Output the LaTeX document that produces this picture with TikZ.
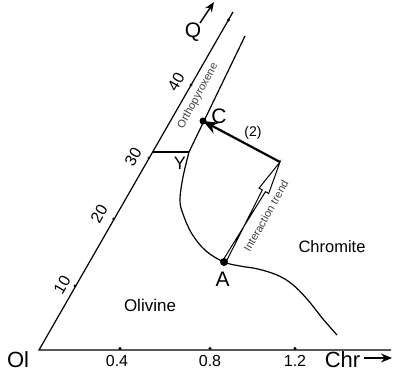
\documentclass[tikz,border=0pt]{standalone}
\usepackage{fontspec}
\setmainfont{Liberation Sans}
\usetikzlibrary{arrows.meta,calc}
\begin{document}
\begin{tikzpicture}[x=1pt,y=-1pt,
  ax/.style={line width=1.2pt},
  tickdot/.style={fill=black,circle,inner sep=0pt,minimum size=3.2pt},
  lbl/.style={inner sep=0pt,font=\fontsize{16}{16}\selectfont},
  big/.style={inner sep=0pt,font=\fontsize{21}{21}\selectfont},
  corner/.style={inner sep=0pt,font=\fontsize{22}{22}\selectfont,anchor=base},
  small/.style={inner sep=0pt,font=\fontsize{11}{11}\selectfont,text=black!75},
  pt/.style={fill=black,circle,inner sep=0pt}]
\useasboundingbox (0,0) rectangle (393,367);
% frame coordinates
\coordinate (Ol) at (39,350);
\coordinate (Top) at (233,12);
\coordinate (BaseEnd) at (391,350);
\coordinate (InTop) at (245,36);
\coordinate (J) at (189,152);
\coordinate (L30) at (153,152);
\coordinate (C) at (203,121);
\coordinate (A) at (224,262);
\coordinate (T) at (280,162);
% axes
\draw[ax] (Top) -- (Ol) -- (BaseEnd);
\draw[ax] (InTop) -- (J);
\draw[ax] (L30) -- (J);
% curve
\draw[ax] plot[smooth,tension=0.6] coordinates {(189,152) (183,177) (180,200) (183,214) (192,234) (206,251) (224,262) (240,266) (258,269) (277,275) (292,284) (307,299) (323,319) (337,335)};
% ticks on left axis
\foreach \y/\n in {286/t10,219/t20,158/t30,85/t40,20/t50}
  \node[tickdot] (\n) at ({39+(350-\y)/1.732-1},\y) {};
% ticks on base
\foreach \x/\n in {120/b4,210/b8,295/b12}
  \node[tickdot] (\n) at (\x,348.5) {};
% tick labels left
\node[lbl,rotate=60] (l10) at (62,285) {10};
\node[lbl,rotate=60] (l20) at (99,214) {20};
\node[lbl,rotate=60] (l30) at (133,157) {30};
\node[lbl,rotate=60] (l40) at (176,82) {40};
% base labels
\node[lbl,anchor=base] (n04) at (117,366) {0.4};
\node[lbl,anchor=base] (n08) at (210,366) {0.8};
\node[lbl,anchor=base] (n12) at (295,366) {1.2};
% corner labels
\node[corner] (olL) at (18,367) {Ol};
\node[corner] (chrL) at (342.5,367) {Chr};
\coordinate (chrA1) at (364,358);
\coordinate (chrA2) at (392,358);
\draw[line width=1.6pt,-{Stealth[length=11pt,width=9pt]}] (chrA1) -- (chrA2);
\node[big] (qL) at (193,32) {Q};
\coordinate (q1) at (200,23);
\coordinate (q2) at (214,2);
\draw[line width=1.4pt,-{Stealth[length=10pt,width=8pt]}] (q1) -- (q2);
% region labels
\node[inner sep=0pt,font=\fontsize{17}{17}\selectfont] (oliv) at (150,305) {Olivine};
\node[inner sep=0pt,font=\fontsize{16.5}{16.5}\selectfont] (chrom) at (332,247) {Chromite};
\node[small,rotate=61.5] (opx) at (198,96) {Orthopyroxene};
\node[small,rotate=60.7] (itr) at (266,216) {Interaction trend};
\node[inner sep=0pt,font=\fontsize{14}{14}\selectfont] (two) at (253,133) {(2)};
\node[inner sep=0pt,font=\fontsize{18}{18}\selectfont] (yL) at (180,163) {Y};
% hollow interaction arrow
\coordinate (Hb) at ($(T)!33pt!(A)$);
\draw[line width=1pt,fill=white,line join=miter]
  ($(A)!1.8pt!-90:(T)$) -- ($(Hb)!1.8pt!90:(T)$) -- ($(Hb)!5.5pt!90:(T)$) -- (T)
  -- ($(Hb)!5.5pt!-90:(T)$) -- ($(Hb)!1.8pt!-90:(T)$) -- ($(A)!1.8pt!90:(T)$) -- cycle;
% main arrow (2)
\draw[line width=2.2pt,-{Stealth[length=15pt,width=12pt]}] (T) -- (C);
% points
\node[pt,minimum size=7pt] (Cd) at (C) {};
\node[pt,minimum size=8pt] (Ad) at (A) {};
\node[big] (cL) at (219,116) {C};
\node[big] (aL) at (222.5,279) {A};
\end{tikzpicture}
\end{document}
